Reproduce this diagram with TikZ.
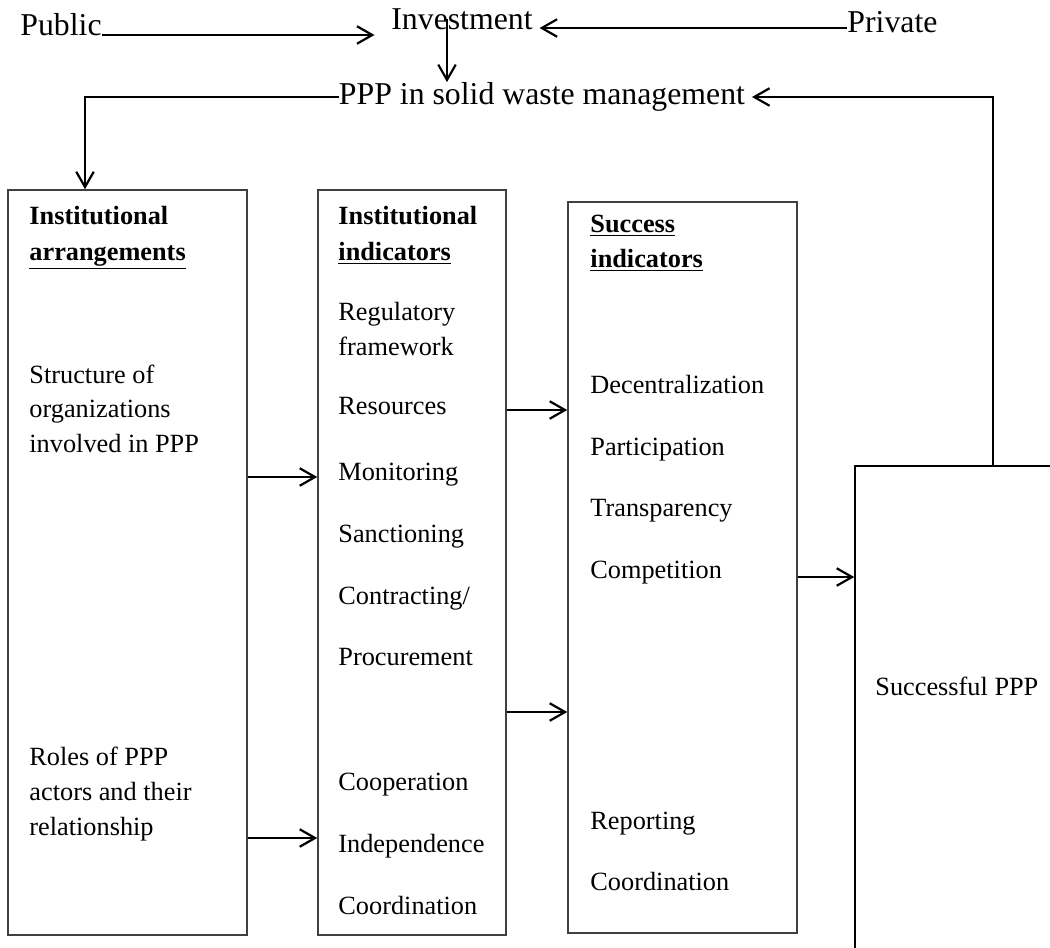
\documentclass[tikz,border=0pt]{standalone}
\usepackage{fontspec}
\setmainfont{Liberation Serif}
\usetikzlibrary{arrows.meta, positioning, fit, calc}
\tikzset{
    panel/.style={rectangle, draw=black!75, line width=0.7pt, inner sep=0pt},
    item/.style={anchor=base west, inner sep=0pt, font=\fontsize{12}{15.5}\selectfont},
    head/.style={item, font=\fontsize{12}{15.5}\selectfont\bfseries},
    toplabel/.style={inner sep=0pt, font=\fontsize{14.5}{17}\selectfont},
    arrow/.style={line width=1pt, -{Straight Barb[length=7pt, width=8pt]}}
}

\begin{document}
\begin{tikzpicture}[x=0.01604cm, y=-0.01604cm]
        \useasboundingbox (0,0) rectangle (1050,947);
        \clip (0,0) rectangle (1050,947);

        % Top labels
        \node[toplabel, anchor=west] (pub) at (20,25) {Public};
        \node[toplabel] (inv) at (462,19) {Investment};
        \node[toplabel, anchor=west] (pri) at (847,22) {Private};
        \node[toplabel] (ppp) at (542,97) {PPP in solid waste management};

        % Boxes
        \node[panel, fit={(8,190) (247,935)}] (arr) {};
        \node[panel, fit={(318,190) (506,935)}] (ind) {};
        \node[panel, fit={(568,202) (797,933)}] (suc) {};
        \node[panel, draw=black, fit={(855,466) (1080,990)}] (res) {};

        % Institutional arrangements
        \node[head] (arr1) at (29,224) {Institutional};
        \node[head] (arr2) at (29,260) {\underline{arrangements}};
        \node[item] (arr3) at (29,383) {Structure of};
        \node[item] (arr4) at (29,417) {organizations};
        \node[item] (arr5) at (29,452) {involved in PPP};
        \node[item] (arr6) at (29,765) {Roles of PPP};
        \node[item] (arr7) at (29,800) {actors and their};
        \node[item] (arr8) at (29,835) {relationship};

        % Institutional indicators
        \node[head] (ind1) at (338,224) {Institutional};
        \node[head] (ind2) at (338,260) {\underline{indicators}};
        \node[item] (ind3) at (338,320) {Regulatory};
        \node[item] (ind4) at (338,355) {framework};
        \node[item] (ind5) at (338,414) {Resources};
        \node[item] (ind6) at (338,480) {Monitoring};
        \node[item] (ind7) at (338,542) {Sanctioning};
        \node[item] (ind8) at (338,604) {Contracting/};
        \node[item] (ind9) at (338,665) {Procurement};
        \node[item] (ind10) at (338,790) {Cooperation};
        \node[item] (ind11) at (338,852) {Independence};
        \node[item] (ind12) at (338,914) {Coordination};

        % Success indicators
        \node[head] (suc1) at (590,232) {\underline{Success}};
        \node[head] (suc2) at (590,267) {\underline{indicators}};
        \node[item] (suc3) at (590,393) {Decentralization};
        \node[item] (suc4) at (590,455) {Participation};
        \node[item] (suc5) at (590,516) {Transparency};
        \node[item] (suc6) at (590,578) {Competition};
        \node[item] (suc7) at (590,829) {Reporting};
        \node[item] (suc8) at (590,890) {Coordination};

        % Result
        \node[item] (res1) at (875,695) {Successful PPP};

        % Connections
        \draw[arrow, shorten >=7.5pt] (pub.east |- 0,35) -- (inv.west |- 0,35);
        \draw[arrow, shorten >=3pt] (pri.west |- 0,28) -- (inv.east |- 0,28);
        \draw[arrow] (inv.center -| 447,0) -- (ppp.north -| 447,0);
        \draw[arrow] (ppp.west) -| (arr.north -| 85,0);
        \draw[arrow, shorten >=3pt] (res.north -| 993,0) |- (ppp.east);
        \draw[arrow] (arr.east |- 0,477) -- (ind.west |- 0,477);
        \draw[arrow] (arr.east |- 0,838) -- (ind.west |- 0,838);
        \draw[arrow] (ind.east |- 0,410) -- (suc.west |- 0,410);
        \draw[arrow] (ind.east |- 0,712) -- (suc.west |- 0,712);
        \draw[arrow] (suc.east |- 0,577) -- (res.west |- 0,577);
\end{tikzpicture}
\end{document}
